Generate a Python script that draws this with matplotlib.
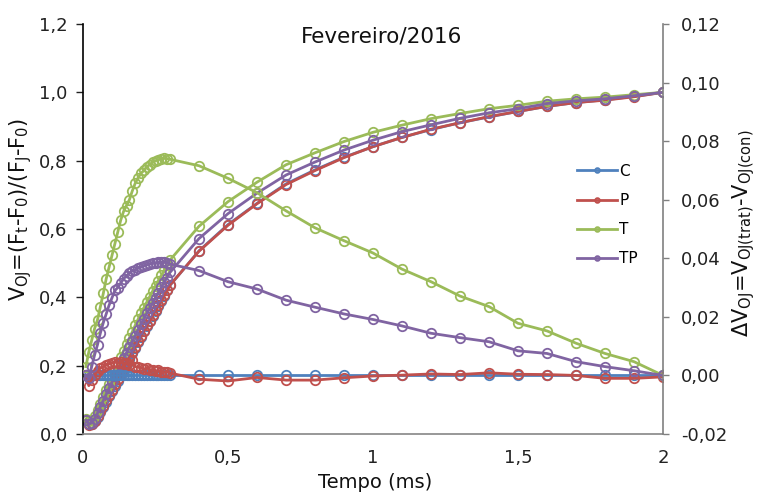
import matplotlib
matplotlib.use("Agg")
import matplotlib.pyplot as plt
from matplotlib.ticker import FixedLocator, FixedFormatter

# ---------------- data ----------------
tempo = [0.01, 0.02, 0.03, 0.04, 0.05, 0.06, 0.07, 0.08, 0.09, 0.10,
         0.11, 0.12, 0.13, 0.14, 0.15, 0.16, 0.17, 0.18, 0.19, 0.20,
         0.21, 0.22, 0.23, 0.24, 0.25, 0.26, 0.27, 0.28, 0.29, 0.30,
         0.4, 0.5, 0.6, 0.7, 0.8, 0.9, 1.0, 1.1, 1.2, 1.3, 1.4, 1.5,
         1.6, 1.7, 1.8, 1.9, 2.0]

series_names = ["C", "P", "T", "TP"]

# V_OJ (left axis)
voj_C = [0.040, 0.030, 0.030, 0.038, 0.050, 0.065, 0.080, 0.095, 0.110, 0.125,
         0.140, 0.156, 0.172, 0.188, 0.204, 0.220, 0.236, 0.252, 0.268, 0.284,
         0.300, 0.315, 0.330, 0.345, 0.360, 0.375, 0.390, 0.405, 0.420, 0.435,
         0.536, 0.613, 0.675, 0.732, 0.773, 0.810, 0.841, 0.868, 0.891, 0.911,
         0.928, 0.944, 0.959, 0.970, 0.978, 0.988, 1.000]
voj_P = [0.040, 0.027, 0.029, 0.038, 0.052, 0.068, 0.083, 0.099, 0.114, 0.129,
         0.145, 0.160, 0.177, 0.192, 0.208, 0.224, 0.241, 0.255, 0.271, 0.287,
         0.302, 0.318, 0.332, 0.347, 0.362, 0.377, 0.391, 0.406, 0.421, 0.436,
         0.535, 0.611, 0.674, 0.730, 0.771, 0.809, 0.841, 0.868, 0.892, 0.911,
         0.929, 0.944, 0.959, 0.970, 0.977, 0.987, 1.000]
voj_T = [0.043, 0.038, 0.042, 0.054, 0.069, 0.089, 0.108, 0.128, 0.147, 0.166,
         0.185, 0.205, 0.225, 0.244, 0.262, 0.280, 0.299, 0.318, 0.336, 0.353,
         0.370, 0.386, 0.402, 0.418, 0.433, 0.449, 0.464, 0.479, 0.494, 0.509,
         0.608, 0.680, 0.737, 0.788, 0.823, 0.856, 0.883, 0.904, 0.923, 0.938,
         0.952, 0.962, 0.974, 0.981, 0.986, 0.993, 1.000]
voj_TP = [0.040, 0.029, 0.033, 0.045, 0.061, 0.080, 0.098, 0.116, 0.134, 0.152,
          0.169, 0.186, 0.204, 0.221, 0.238, 0.255, 0.272, 0.288, 0.305, 0.321,
          0.337, 0.353, 0.368, 0.383, 0.399, 0.414, 0.429, 0.444, 0.458, 0.473,
          0.572, 0.645, 0.705, 0.758, 0.796, 0.831, 0.860, 0.885, 0.905, 0.924,
          0.940, 0.952, 0.967, 0.975, 0.981, 0.990, 1.000]

# Delta V_OJ (right axis)
dv_C = [0.0, 0.0, 0.0, 0.0, 0.0, 0.0, 0.0, 0.0, 0.0, 0.0,
        0.0, 0.0, 0.0, 0.0, 0.0, 0.0, 0.0, 0.0, 0.0, 0.0,
        0.0, 0.0, 0.0, 0.0, 0.0, 0.0, 0.0, 0.0, 0.0, 0.0,
        0.0, 0.0, 0.0, 0.0, 0.0, 0.0, 0.0, 0.0, 0.0, 0.0,
        0.0, 0.0, 0.0, 0.0, 0.0, 0.0, 0.0]
dv_P = [0.000, -0.0035, -0.0015, 0.000, 0.0015, 0.0025, 0.003, 0.0035, 0.004, 0.0042,
        0.0045, 0.0043, 0.0045, 0.004, 0.0042, 0.0035, 0.0052, 0.003, 0.0028, 0.0025,
        0.0022, 0.0025, 0.002, 0.0018, 0.0015, 0.0017, 0.0012, 0.001, 0.0012, 0.0008,
        -0.0013, -0.0019, -0.0007, -0.0016, -0.0016, -0.0008, -0.0002, 0.0001, 0.0005, 0.0003,
        0.0009, 0.0004, 0.0003, 0.0000, -0.0010, -0.0010, -0.0005]
dv_T = [0.003, 0.008, 0.012, 0.016, 0.019, 0.0235, 0.028, 0.033, 0.037, 0.041,
        0.045, 0.049, 0.053, 0.056, 0.058, 0.060, 0.063, 0.0656, 0.0675, 0.069,
        0.070, 0.0713, 0.072, 0.0728, 0.0733, 0.0737, 0.074, 0.0741, 0.074, 0.0738,
        0.0716, 0.0673, 0.0624, 0.0562, 0.0504, 0.0460, 0.0418, 0.0363, 0.0320, 0.0271,
        0.0235, 0.0178, 0.0152, 0.0110, 0.0075, 0.0047, 0.0000]
dv_TP = [0.000, -0.001, 0.003, 0.007, 0.0105, 0.0145, 0.018, 0.021, 0.024, 0.0265,
         0.029, 0.030, 0.0315, 0.033, 0.034, 0.035, 0.0357, 0.036, 0.0366, 0.037,
         0.0374, 0.0378, 0.038, 0.0383, 0.0385, 0.0386, 0.0386, 0.0386, 0.0384, 0.038,
         0.0358, 0.0320, 0.0295, 0.0257, 0.0233, 0.0210, 0.0191, 0.0169, 0.0144, 0.0129,
         0.0115, 0.0084, 0.0075, 0.0047, 0.0030, 0.0016, 0.0000]

x_ticks = [0, 0.5, 1, 1.5, 2]
x_ticklabels = ["0", "0,5", "1", "1,5", "2"]
yl_ticks = [0.0, 0.2, 0.4, 0.6, 0.8, 1.0, 1.2]
yl_ticklabels = ["0,0", "0,2", "0,4", "0,6", "0,8", "1,0", "1,2"]
yr_ticks = [-0.02, 0.0, 0.02, 0.04, 0.06, 0.08, 0.10, 0.12]
yr_ticklabels = ["-0,02", "0,00", "0,02", "0,04", "0,06", "0,08", "0,10", "0,12"]

title_text = "Fevereiro/2016"
xlabel_text = "Tempo (ms)"
ylabel_left = r"V$_{\mathrm{OJ}}$=(F$_{\mathrm{t}}$-F$_{\mathrm{0}}$)/(F$_{\mathrm{J}}$-F$_{\mathrm{0}}$)"
ylabel_right = r"$\Delta$V$_{\mathrm{OJ}}$=V$_{\mathrm{OJ(trat)}}$-V$_{\mathrm{OJ(con)}}$"

# ---------------- style ----------------
plt.rcParams["font.family"] = ["DejaVu Sans"]
plt.rcParams["mathtext.fontset"] = "dejavusans"
plt.rcParams["mathtext.default"] = "regular"

colors = ["#4F81BD", "#C0504D", "#9BBB59", "#8064A2"]
voj_all = [voj_C, voj_P, voj_T, voj_TP]
dv_all = [dv_C, dv_P, dv_T, dv_TP]

W, H = 757, 498
fig = plt.figure(figsize=(W / 100, H / 100), dpi=100)
ax = fig.add_axes([83 / W, 64 / H, 580 / W, 410 / H])
ax2 = ax.twinx()

mk = dict(marker="o", markersize=6.8, markerfacecolor="none", markeredgewidth=1.3,
          linewidth=2.0)

handles = []
for name, col, v in zip(series_names, colors, voj_all):
    ln, = ax.plot(tempo, v, color=col, markeredgecolor=col, label=name, **mk)
    handles.append(ln)
for name, col, d in zip(series_names, colors, dv_all):
    ax2.plot(tempo, d, color=col, markeredgecolor=col, **mk)

ax.set_xlim(0, 2)
ax.set_ylim(0, 1.2)
ax2.set_ylim(-0.02, 0.12)

ax.xaxis.set_major_locator(FixedLocator(x_ticks))
ax.xaxis.set_major_formatter(FixedFormatter(x_ticklabels))
ax.yaxis.set_major_locator(FixedLocator(yl_ticks))
ax.yaxis.set_major_formatter(FixedFormatter(yl_ticklabels))
ax2.yaxis.set_major_locator(FixedLocator(yr_ticks))
ax2.yaxis.set_major_formatter(FixedFormatter(yr_ticklabels))

ax.tick_params(axis="x", length=0, pad=11, labelsize=13, colors="#222222")
ax.tick_params(axis="y", length=5, width=1, pad=6, labelsize=13,
               colors="#222222", direction="out")
ax2.tick_params(axis="y", length=4, width=1, pad=9, labelsize=13,
                colors="#222222", direction="out")
ax2.tick_params(axis="y", color="#808080")

for a in (ax, ax2):
    a.spines["top"].set_visible(False)
    a.patch.set_visible(False)
ax.spines["right"].set_visible(False)
ax2.spines["left"].set_visible(False)
ax2.spines["bottom"].set_visible(False)
ax.spines["left"].set_color("#000000")
ax.spines["left"].set_linewidth(1.2)
ax.spines["bottom"].set_color("#868686")
ax.spines["bottom"].set_linewidth(1.2)
ax2.spines["right"].set_color("#808080")
ax2.spines["right"].set_linewidth(1.2)

fig.text(382 / W, 1 - 36 / H, title_text, ha="center", va="center",
         fontsize=15.5, color="#111111")
fig.text(375 / W, 1 - 482 / H, xlabel_text, ha="center", va="center",
         fontsize=14, color="#111111")
fig.text(21 / W, 1 - 209 / H, ylabel_left, ha="center", va="center",
         rotation=90, fontsize=15, color="#111111")
fig.text(744 / W, 1 - 233 / H, ylabel_right, ha="center", va="center",
         rotation=90, fontsize=15, color="#111111")

leg = ax2.legend(handles, series_names, loc="center left",
                 bbox_to_anchor=(577 / W, 1 - 215 / H), bbox_transform=fig.transFigure,
                 frameon=False, fontsize=11, markerscale=0.5, handlelength=2.6,
                 handletextpad=0.15, labelspacing=0.93, borderpad=0, borderaxespad=0)

fig.savefig("out.png", dpi=100)
